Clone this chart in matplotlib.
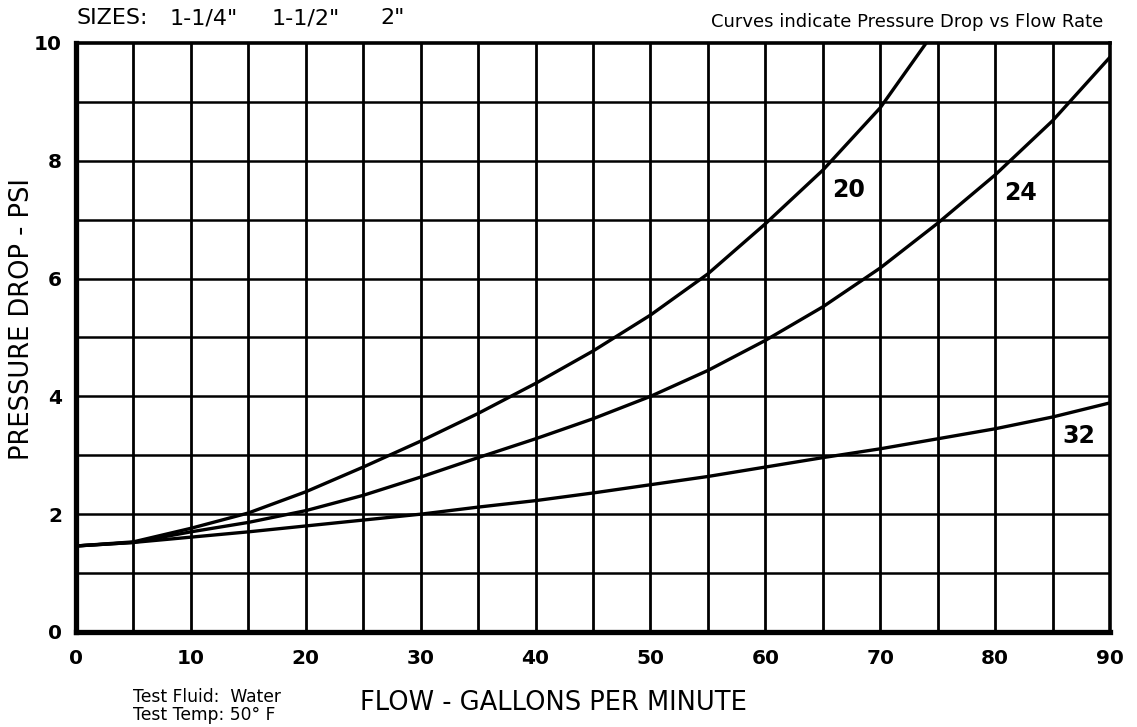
import numpy as np
from matplotlib import pyplot as plt

# flow (gpm) vs pressure drop (psi) for each curve
flow_20 = np.array([0, 5, 10, 15, 20, 25, 30, 35, 40, 45, 50, 55, 60, 65, 70, 74])
dp_20 = np.array([1.46, 1.53, 1.76, 2.02, 2.38, 2.80, 3.24, 3.71, 4.22, 4.77, 5.38, 6.08, 6.93, 7.84, 8.90, 10.0])

flow_24 = np.array([0, 5, 10, 15, 20, 25, 30, 35, 40, 45, 50, 55, 60, 65, 70, 75, 80, 85, 90])
dp_24 = np.array([1.46, 1.52, 1.70, 1.86, 2.06, 2.32, 2.63, 2.96, 3.28, 3.62, 4.0, 4.44, 4.95,
                  5.52, 6.18, 6.94, 7.76, 8.68, 9.76])

flow_32 = np.array([0, 5, 10, 15, 20, 25, 30, 35, 40, 45, 50, 55, 60, 65, 70, 75, 80, 85, 90])
dp_32 = np.array([1.46, 1.52, 1.61, 1.70, 1.80, 1.90, 2.0, 2.12, 2.23, 2.36, 2.50, 2.64, 2.80,
                  2.96, 3.11, 3.28, 3.45, 3.65, 3.89])

curve_labels = ["20", "24", "32"]
label_x = [67.2, 82.2, 87.3]
label_y = [7.50, 7.45, 3.33]

x_ticks = [0, 10, 20, 30, 40, 50, 60, 70, 80, 90]
y_ticks = [0, 2, 4, 6, 8, 10]
sizes = ["SIZES:", '1-1/4"', '1-1/2"', '2"']

fig = plt.figure(figsize=(11.37, 7.27), dpi=100)
ax = fig.add_axes([0.0668, 0.1307, 0.9095, 0.8102])

# grid every 5 gpm and every 1 psi
for gx in np.arange(5, 90, 5):
    ax.axvline(gx, color="black", lw=2.0, zorder=1)
for gy in np.arange(1, 10, 1):
    ax.axhline(gy, color="black", lw=1.8, zorder=1)

for fx, fy in [(flow_20, dp_20), (flow_24, dp_24), (flow_32, dp_32)]:
    ax.plot(fx, fy, color="black", lw=2.4, zorder=3, solid_joinstyle="round")

for lab, lx, ly in zip(curve_labels, label_x, label_y):
    ax.text(lx, ly, lab, fontsize=17, fontweight="bold", ha="center", va="center", zorder=4)

ax.set_xlim(0, 90)
ax.set_ylim(0, 10)
ax.set_xticks(x_ticks)
ax.set_yticks(y_ticks)
ax.tick_params(axis="x", length=0, labelsize=14.5, pad=12)
ax.tick_params(axis="y", length=0, labelsize=14.5, pad=10)
for t in ax.get_xticklabels() + ax.get_yticklabels():
    t.set_fontweight("bold")

for side in ["left", "bottom"]:
    ax.spines[side].set_linewidth(3.8)
for side in ["top", "right"]:
    ax.spines[side].set_linewidth(2.6)

fig.text(22 / 1137, 1 - 319 / 727, "PRESSURE DROP - PSI", fontsize=18.5, rotation=90,
         ha="center", va="center")
fig.text(553 / 1137, 1 - 703 / 727, "FLOW - GALLONS PER MINUTE", fontsize=18.5,
         ha="center", va="center")
fig.text(133 / 1137, 1 - 697 / 727, "Test Fluid:  Water", fontsize=12.3, ha="left", va="center")
fig.text(133 / 1137, 1 - 715 / 727, "Test Temp: 50\u00b0 F", fontsize=12.3, ha="left", va="center")

for s, sx in zip(sizes, [77, 170, 272, 380]):
    fig.text(sx / 1137, 1 - 18 / 727, s, fontsize=16, ha="left", va="center")
fig.text(1103 / 1137, 1 - 22 / 727, "Curves indicate Pressure Drop vs Flow Rate", fontsize=13,
         ha="right", va="center")

plt.savefig("out.png", dpi=100)
